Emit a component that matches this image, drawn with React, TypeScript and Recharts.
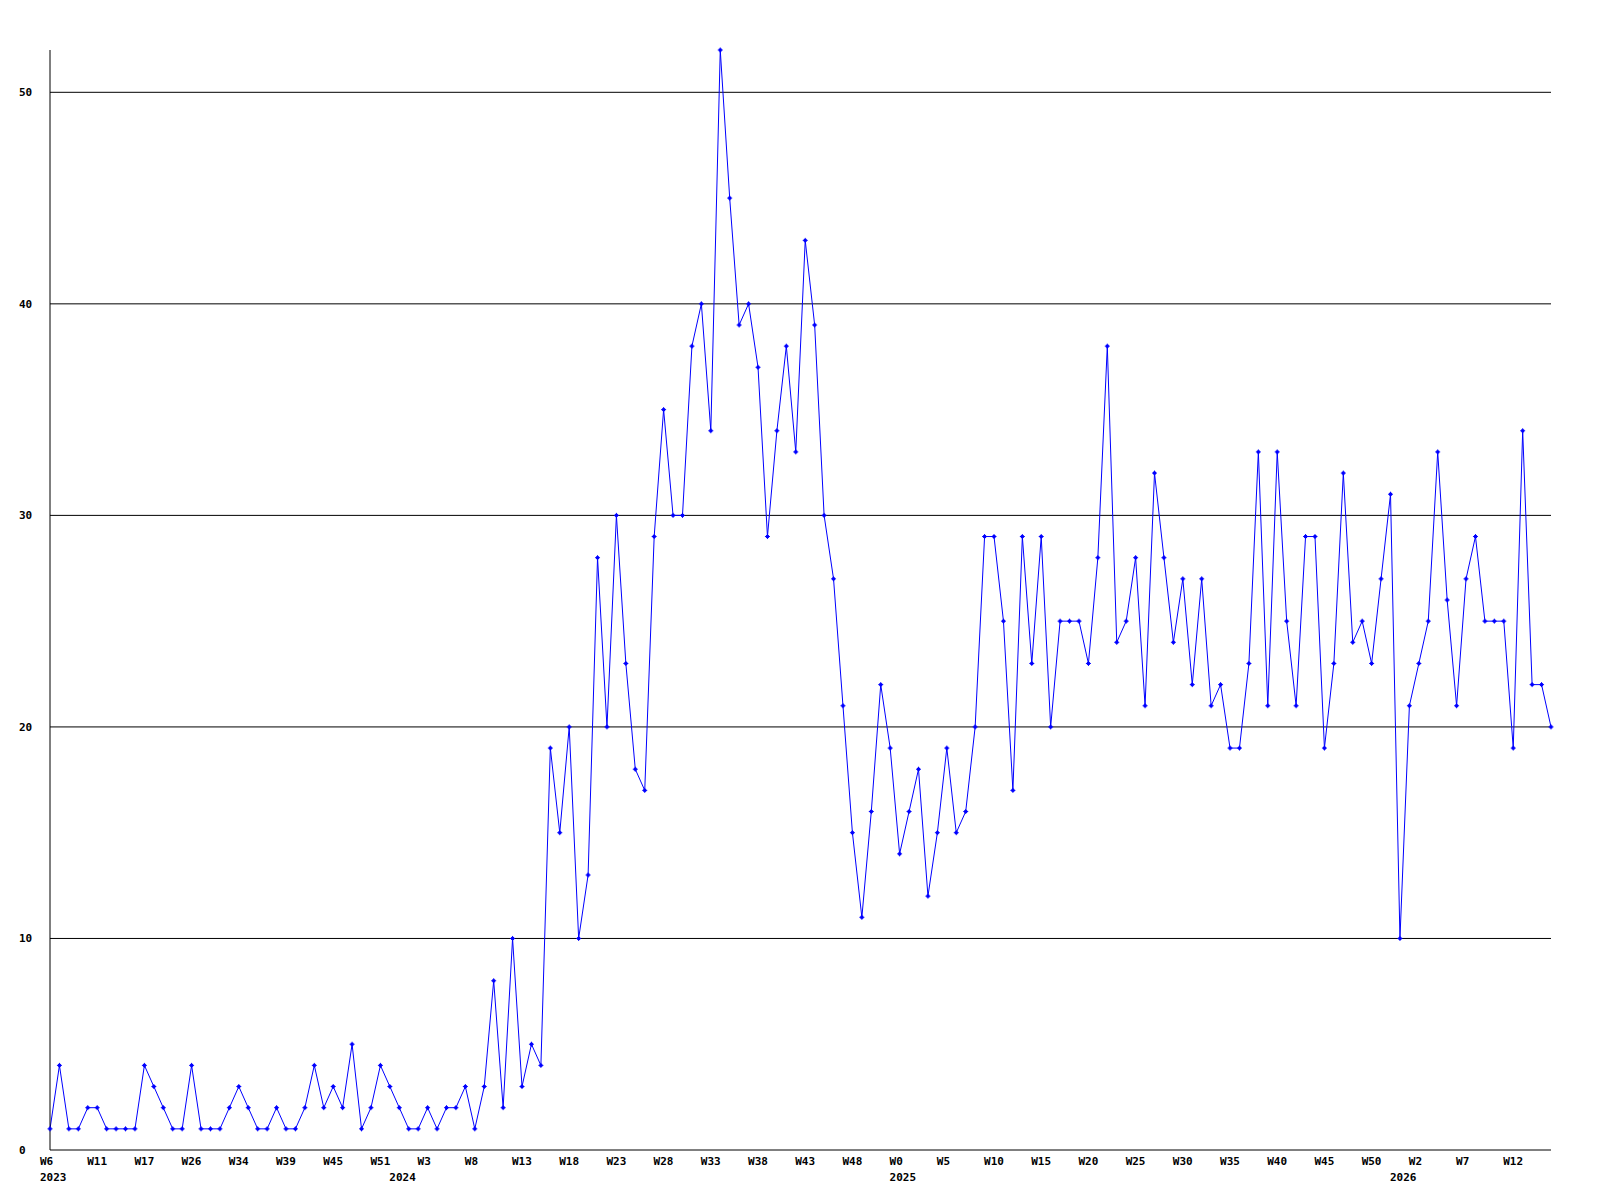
import React from 'react';
import { LineChart, Line, XAxis, YAxis, ReferenceLine } from 'recharts';

// weekly counts, one point per week
const counts = [
  1, 4, 1, 1, 2, 2, 1, 1, 1, 1,
  4, 3, 2, 1, 1, 4, 1, 1, 1, 2,
  3, 2, 1, 1, 2, 1, 1, 2, 4, 2,
  3, 2, 5, 1, 2, 4, 3, 2, 1, 1,
  2, 1, 2, 2, 3, 1, 3, 8, 2, 10,
  3, 5, 4, 19, 15, 20, 10, 13, 28, 20,
  30, 23, 18, 17, 29, 35, 30, 30, 38, 40,
  34, 52, 45, 39, 40, 37, 29, 34, 38, 33,
  43, 39, 30, 27, 21, 15, 11, 16, 22, 19,
  14, 16, 18, 12, 15, 19, 15, 16, 20, 29,
  29, 25, 17, 29, 23, 29, 20, 25, 25, 25,
  23, 28, 38, 24, 25, 28, 21, 32, 28, 24,
  27, 22, 27, 21, 22, 19, 19, 23, 33, 21,
  33, 25, 21, 29, 29, 19, 23, 32, 24, 25,
  23, 27, 31, 10, 21, 23, 25, 33, 26, 21,
  27, 29, 25, 25, 25, 19, 34, 22, 22, 20,
];

// a week label under every fifth point
const weekLabels = [
  'W6', 'W11', 'W17', 'W26', 'W34', 'W39', 'W45', 'W51',
  'W3', 'W8', 'W13', 'W18', 'W23', 'W28', 'W33', 'W38',
  'W43', 'W48', 'W0', 'W5', 'W10', 'W15', 'W20', 'W25',
  'W30', 'W35', 'W40', 'W45', 'W50', 'W2', 'W7', 'W12',
];
const labelStep = 5;

// year markers: point index -> year
const yearIndex = [0, 37, 90, 143];
const yearText = ['2023', '2024', '2025', '2026'];

const yTicks = [0, 10, 20, 30, 40, 50];
const gridValues = [10, 20, 30, 40, 50];

const data = counts.map((v, i) => ({ i, v }));
const xTicks = [
  ...weekLabels.map((_, k) => k * labelStep),
  ...yearIndex.filter((p) => p % labelStep !== 0),
].sort((a, b) => a - b);

const FONT = '"DejaVu Sans Mono", "Liberation Mono", monospace';

const WeekTick = ({ x, y, payload }: any) => {
  const idx = payload.value;
  const week = idx % labelStep === 0 ? weekLabels[idx / labelStep] : null;
  const yi = yearIndex.indexOf(idx);
  return (
    <g>
      {week && (
        <text x={x - 10} y={y + 13} textAnchor="start" fontFamily={FONT} fontSize={11} fontWeight="bold" fill="#000">
          {week}
        </text>
      )}
      {yi >= 0 && (
        <text x={x - 10} y={y + 29} textAnchor="start" fontFamily={FONT} fontSize={11} fontWeight="bold" fill="#000">
          {yearText[yi]}
        </text>
      )}
    </g>
  );
};

const CountTick = ({ y, payload }: any) => (
  <text x={19} y={y + 4} textAnchor="start" fontFamily={FONT} fontSize={11} fontWeight="bold" fill="#000">
    {payload.value}
  </text>
);

const PlusDot = ({ cx, cy, index }: any) => {
  if (cx == null || cy == null) return null;
  return (
    <g key={index}>
      <rect x={cx - 1.5} y={cy - 1.5} width={3} height={3} fill="#0000ff" />
      <path d={`M${cx - 2.5},${cy}H${cx + 2.5}M${cx},${cy - 2.5}V${cy + 2.5}`} stroke="#0000ff" strokeWidth={1} />
    </g>
  );
};

export default function App() {
  return (
    <div style={{ width: 1600, height: 1200, background: '#fff' }}>
      <style>{'body{margin:0;background:#fff}'}</style>
      <LineChart width={1600} height={1200} data={data} margin={{ top: 50, right: 49, bottom: 0, left: 0 }}>
        {gridValues.map((g) => (
          <ReferenceLine key={g} y={g} stroke="#000" strokeWidth={1} />
        ))}
        <XAxis
          dataKey="i"
          type="number"
          domain={[0, counts.length - 1]}
          ticks={xTicks}
          interval={0}
          height={50}
          tickLine={false}
          tickSize={0}
          tick={<WeekTick />}
          axisLine={{ stroke: '#000', strokeWidth: 1 }}
        />
        <YAxis
          domain={[0, 52]}
          ticks={yTicks}
          width={50}
          tickLine={false}
          tickSize={0}
          tick={<CountTick />}
          axisLine={{ stroke: '#000', strokeWidth: 1 }}
        />
        <Line
          type="linear"
          dataKey="v"
          stroke="#0000ff"
          strokeWidth={1}
          dot={<PlusDot />}
          activeDot={false}
          isAnimationActive={false}
        />
      </LineChart>
    </div>
  );
}
